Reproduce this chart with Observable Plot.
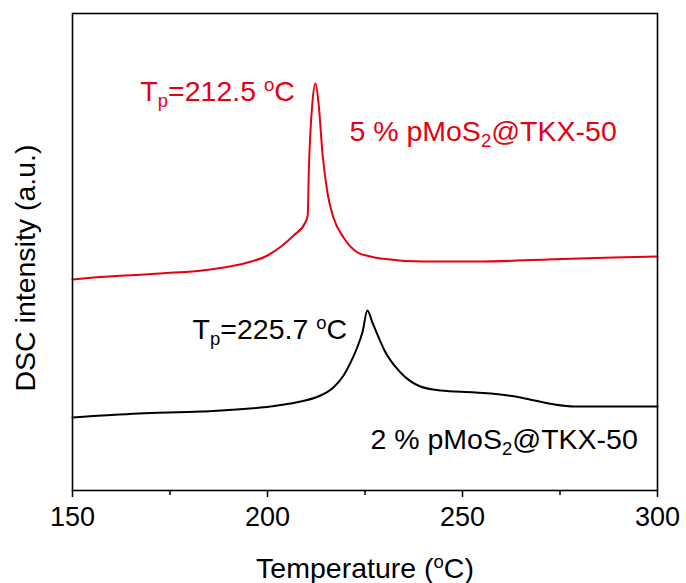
<!DOCTYPE html>
<html><head><meta charset="utf-8">
<script src="https://cdn.jsdelivr.net/npm/d3@7"></script>
<script src="https://cdn.jsdelivr.net/npm/@observablehq/plot@0.6"></script>
<style>
body{margin:0;background:#fff;}
svg{display:block}
</style>
</head><body><div id="chart"></div>
<script>
// 5 % pMoS2@TKX-50 (red)
const temp5 = [150,155.4,172.6,185.4,194.9,200,203.8,206.7,209.7,210.3,210.6,211.5,212.3,213.1,214.1,215.4,216.9,219.5,223.1,226.4,229,240,254.6,271.8,288.7,300];
const dsc5  = [211,213,217,221,228,235,245,255,268,275,320,387,407,387,337,297,273,253,238,234,232,229,229,231,233,234];
// 2 % pMoS2@TKX-50 (black)
const temp2 = [150,167,183,202.6,208.5,213,216.9,219.5,221.3,223,224.4,225.6,226.9,228.5,230,234.1,239.2,244.4,253.3,263.6,268.5,273.6,278.7,300];
const dsc2  = [73,77,79,85,89,94,103,115,128,143,159,180,168,153,140,118,104,100,98,94,90,86,84,84];

const majorTicks = [150,200,250,300];
const minorTicks = [175,225,275];

const annotText  = ["T_p=212.5 ^oC", "5 % pMoS_2@TKX-50", "T_p=225.7 ^oC", "2 % pMoS_2@TKX-50"];
const annotT     = [167.4, 221.0, 180.8, 226.4];
const annotV     = [399, 359, 161, 51];
const annotColor = ["#e60012", "#e60012", "#000000", "#000000"];

const xLabel = "Temperature (^oC)";
const yLabel = "DSC intensity (a.u.)";

const red = "#e60012";
const s5 = temp5.map((t,i)=>({t, v: dsc5[i]}));
const s2 = temp2.map((t,i)=>({t, v: dsc2[i]}));
const annots = annotText.map((s,i)=>({s, t: annotT[i], v: annotV[i], c: annotColor[i]}));

const FS = 28.5;
const plot = Plot.plot({
  width: 686, height: 583,
  marginLeft: 72, marginRight: 29, marginTop: 13, marginBottom: 93,
  style: {fontFamily: "'Liberation Sans', Arial, sans-serif", background: "#fff", overflow: "visible"},
  x: {domain: [150, 300]},
  y: {domain: [0, 477], axis: null},
  marks: [
    Plot.line(s5, {x: "t", y: "v", stroke: red, strokeWidth: 2, curve: "monotone-x"}),
    Plot.line(s2, {x: "t", y: "v", stroke: "#000", strokeWidth: 2, curve: "monotone-x"}),
    Plot.frame({stroke: "#000", strokeWidth: 1.6}),
    Plot.axisX(majorTicks, {tickSize: 7, tickPadding: 9, fontSize: 27, strokeWidth: 1.5, label: null, fill: "#000", stroke: "#000"}),
    Plot.axisX(minorTicks, {tickSize: 5, tickFormat: () => "", strokeWidth: 1.5, label: null, stroke: "#000"}),
    Plot.text(annots, {x: "t", y: "v", text: "s", fill: "c", textAnchor: "start", lineAnchor: "middle", fontSize: FS}),
    Plot.text([xLabel], {frameAnchor: "bottom", text: d => d, fontSize: FS, lineAnchor: "middle", dy: 78, fill: "#000"}),
    Plot.text([yLabel], {frameAnchor: "left", text: d => d, fontSize: FS, textAnchor: "middle", lineAnchor: "middle", rotate: -90, dx: -47, dy: 16, fill: "#000"})
  ]
});

// rich text: _x subscript, ^x superscript
const ns = "http://www.w3.org/2000/svg";
plot.querySelectorAll("text").forEach(el => {
  const raw = el.textContent;
  if (!/[_^]/.test(raw) || el.querySelector("tspan")) return;
  const fs = parseFloat(el.getAttribute("font-size") || el.parentNode.getAttribute("font-size")) || FS;
  el.textContent = "";
  let cur = 0, buf = "";
  const add = (txt, d, small) => {
    const t = document.createElementNS(ns, "tspan");
    t.textContent = txt;
    if (d !== cur) t.setAttribute("dy", (d - cur).toFixed(2));
    cur = d;
    if (small) t.setAttribute("font-size", small);
    el.appendChild(t);
  };
  for (let i = 0; i < raw.length; i++) {
    const c = raw[i];
    if ((c === "_" || c === "^") && i + 1 < raw.length) {
      if (buf) { add(buf, 0); buf = ""; }
      add(raw[i+1], c === "_" ? 0.24 * fs : -0.33 * fs, (0.65 * fs).toFixed(1));
      i++;
    } else buf += c;
  }
  if (buf) add(buf, 0);
});

document.getElementById("chart").appendChild(plot);
</script>
</body></html>
